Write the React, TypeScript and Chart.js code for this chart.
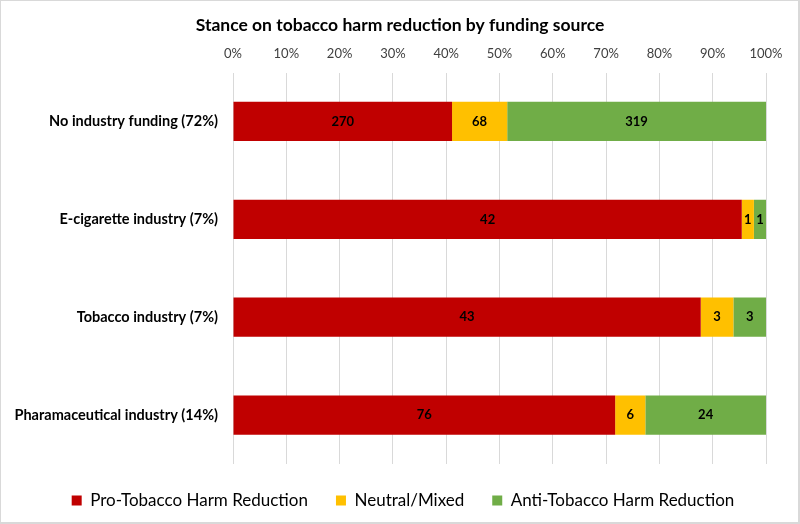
import React, { useEffect, useRef } from "react";
import { Chart, registerables } from "chart.js";

Chart.register(...registerables);

const categories = [
  "No industry funding (72%)",
  "E-cigarette industry (7%)",
  "Tobacco industry (7%)",
  "Pharamaceutical industry (14%)",
];
const seriesNames = ["Pro-Tobacco Harm Reduction", "Neutral/Mixed", "Anti-Tobacco Harm Reduction"];
const proCounts = [270, 42, 43, 76];
const neutralCounts = [68, 1, 3, 6];
const antiCounts = [319, 1, 3, 24];
const seriesColors = ["#C00000", "#FFC000", "#70AD47"];
const tickValues = [0, 10, 20, 30, 40, 50, 60, 70, 80, 90, 100];
const FONT = "Lato, 'Open Sans', sans-serif";

export default function App() {
  const ref = useRef<HTMLCanvasElement>(null);
  useEffect(() => {
    document.body.style.margin = "0";
    const counts = [proCounts, neutralCounts, antiCounts];
    const totals = categories.map((_, i) => proCounts[i] + neutralCounts[i] + antiCounts[i]);
    const datasets = counts.map((arr, k) => ({
      label: seriesNames[k],
      data: arr.map((v, i) => (v / totals[i]) * 100),
      counts: arr,
      backgroundColor: seriesColors[k],
      borderWidth: 0,
      barPercentage: 0.8,
      categoryPercentage: 0.5,
    }));
    const labelPlugin = {
      id: "segLabels",
      afterLayout(chart: any) {
        const t = chart.titleBlock;
        if (t) {
          t.left += 16.5;
          t.right += 16.5;
        }
        const lg = chart.legend;
        if (lg) {
          lg.left += 19.5;
          lg.right += 19.5;
          lg.adjustHitBoxes();
        }
      },
      afterDatasetsDraw(chart: any) {
        const ctx = chart.ctx;
        ctx.save();
        ctx.font = `bold 13px ${FONT}`;
        ctx.fillStyle = "#000";
        ctx.textAlign = "center";
        ctx.textBaseline = "middle";
        chart.data.datasets.forEach((ds: any, di: number) => {
          const meta = chart.getDatasetMeta(di);
          meta.data.forEach((bar: any, i: number) => {
            const cx = (bar.x + bar.base) / 2;
            ctx.fillText(String(ds.counts[i]), cx, bar.y);
          });
        });
        ctx.restore();
      },
    };
    const chart = new Chart(ref.current!, {
      type: "bar",
      data: { labels: categories, datasets: datasets as any },
      plugins: [labelPlugin],
      options: {
        indexAxis: "y",
        animation: false,
        responsive: false,
        layout: { padding: { left: 0, right: 32, top: 0, bottom: 3 } },
        scales: {
          x: {
            position: "top",
            stacked: true,
            min: 0,
            max: 100,
            afterBuildTicks: (scale: any) => {
              scale.ticks = tickValues.map((v) => ({ value: v }));
            },
            afterFit: (scale: any) => {
              scale.height = 29;
              scale.paddingLeft = 0;
              scale.paddingRight = 0;
            },
            ticks: {
              callback: (v: any) => v + "%",
              font: { family: FONT, size: 13 },
              color: "#404040",
              padding: 11,
            },
            grid: { color: "#d9d9d9", drawTicks: false },
            border: { display: false },
          },
          y: {
            stacked: true,
            afterFit: (scale: any) => {
              scale.width = 232;
            },
            ticks: {
              font: { family: FONT, size: 14.5, weight: "bold" },
              color: "#000",
              padding: 7,
            },
            grid: { display: false },
            border: { display: false },
          },
        },
        plugins: {
          title: {
            display: true,
            text: "Stance on tobacco harm reduction by funding source",
            font: { family: FONT, size: 17.5, weight: "bold" },
            color: "#000",
            padding: { top: 13.5, bottom: 8 },
          },
          legend: {
            position: "bottom",
            labels: {
              boxWidth: 10,
              boxHeight: 10,
              padding: 28,
              font: { family: FONT, size: 17 },
              color: "#000",
            },
          },
          tooltip: { enabled: false },
        },
      },
    });
    return () => chart.destroy();
  }, []);
  return (
    <div
      style={{
        position: "relative",
        width: 800,
        height: 524,
        boxSizing: "border-box",
        borderTop: "1px solid #d9d9d9",
        borderLeft: "1px solid #d9d9d9",
        borderRight: "2px solid #d9d9d9",
        borderBottom: "2px solid #d9d9d9",
        background: "#fff",
      }}
    >
      <canvas ref={ref} width={797} height={521} style={{ display: "block" }} />
    </div>
  );
}
